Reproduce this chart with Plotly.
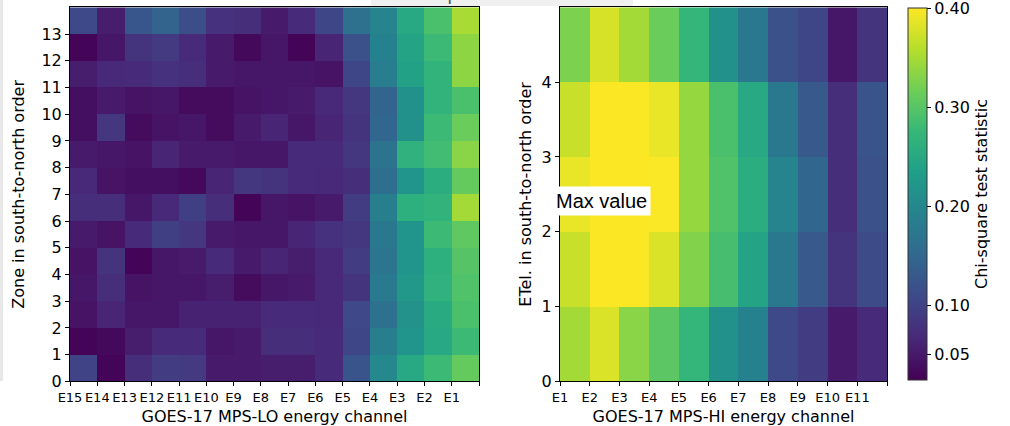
import plotly.graph_objects as go

# ---------------- data ----------------
lo_channels = ["E15", "E14", "E13", "E12", "E11", "E10", "E9", "E8",
               "E7", "E6", "E5", "E4", "E3", "E2", "E1"]
hi_channels = ["E1", "E2", "E3", "E4", "E5", "E6", "E7", "E8", "E9", "E10", "E11"]
lo_zones = ["0", "1", "2", "3", "4", "5", "6", "7", "8", "9", "10", "11", "12", "13"]
hi_etels = ["0", "1", "2", "3", "4"]

# rows: zone 0 (bottom) .. zone 13 (top); columns E15 .. E1
lo_stat = [
    [0.100, 0.029, 0.074, 0.093, 0.089, 0.051, 0.051, 0.055, 0.055, 0.070, 0.123, 0.201, 0.250, 0.280, 0.310],
    [0.029, 0.033, 0.055, 0.070, 0.070, 0.048, 0.051, 0.074, 0.074, 0.070, 0.104, 0.186, 0.220, 0.250, 0.280],
    [0.044, 0.063, 0.048, 0.048, 0.059, 0.059, 0.059, 0.070, 0.070, 0.066, 0.108, 0.164, 0.216, 0.254, 0.291],
    [0.048, 0.074, 0.044, 0.048, 0.048, 0.055, 0.036, 0.048, 0.051, 0.066, 0.081, 0.179, 0.224, 0.265, 0.295],
    [0.044, 0.081, 0.029, 0.048, 0.051, 0.070, 0.051, 0.063, 0.055, 0.066, 0.093, 0.171, 0.220, 0.261, 0.299],
    [0.051, 0.044, 0.070, 0.096, 0.085, 0.051, 0.048, 0.048, 0.063, 0.078, 0.085, 0.175, 0.220, 0.280, 0.306],
    [0.074, 0.074, 0.048, 0.066, 0.096, 0.074, 0.029, 0.048, 0.044, 0.051, 0.093, 0.186, 0.261, 0.269, 0.348],
    [0.066, 0.044, 0.040, 0.040, 0.033, 0.063, 0.085, 0.081, 0.070, 0.066, 0.074, 0.160, 0.220, 0.258, 0.310],
    [0.051, 0.048, 0.044, 0.063, 0.051, 0.051, 0.048, 0.048, 0.070, 0.070, 0.085, 0.168, 0.265, 0.284, 0.333],
    [0.040, 0.085, 0.036, 0.044, 0.048, 0.036, 0.051, 0.063, 0.048, 0.063, 0.081, 0.149, 0.213, 0.280, 0.314],
    [0.040, 0.051, 0.044, 0.048, 0.036, 0.036, 0.044, 0.048, 0.051, 0.066, 0.085, 0.145, 0.213, 0.269, 0.291],
    [0.055, 0.066, 0.070, 0.078, 0.074, 0.051, 0.048, 0.048, 0.048, 0.044, 0.104, 0.183, 0.239, 0.269, 0.336],
    [0.029, 0.048, 0.081, 0.089, 0.070, 0.051, 0.033, 0.048, 0.029, 0.063, 0.119, 0.190, 0.243, 0.280, 0.336],
    [0.108, 0.055, 0.126, 0.145, 0.115, 0.078, 0.074, 0.051, 0.070, 0.104, 0.164, 0.194, 0.250, 0.291, 0.351],
]

# rows: ETel 0 (bottom) .. 4 (top); columns E1 .. E11
hi_stat = [
    [0.348, 0.381, 0.333, 0.303, 0.273, 0.213, 0.190, 0.108, 0.093, 0.051, 0.070],
    [0.370, 0.400, 0.400, 0.381, 0.329, 0.288, 0.243, 0.175, 0.130, 0.081, 0.111],
    [0.389, 0.400, 0.400, 0.399, 0.340, 0.295, 0.258, 0.194, 0.149, 0.074, 0.119],
    [0.370, 0.400, 0.400, 0.389, 0.340, 0.291, 0.250, 0.175, 0.130, 0.074, 0.123],
    [0.325, 0.378, 0.348, 0.314, 0.273, 0.213, 0.175, 0.119, 0.104, 0.048, 0.081],
]

cbar_ticks = [0.05, 0.10, 0.20, 0.30, 0.40]
cbar_labels = ["0.05", "0.10", "0.20", "0.30", "0.40"]
z_min, z_max = 0.0245, 0.4005

# ---------------- figure ----------------
W, H = 1010, 426
FONT = "DejaVu Sans"

def px_x(p):
    return p / W

def px_y(p):
    return 1 - p / H

fig = go.Figure()
fig.add_trace(go.Heatmap(z=lo_stat, x0=0.5, dx=1, y0=0.5, dy=1,
                         coloraxis="coloraxis", xaxis="x", yaxis="y",
                         hovertemplate="%{z}<extra></extra>"))
fig.add_trace(go.Heatmap(z=hi_stat, x0=0.5, dx=1, y0=0.5, dy=1,
                         coloraxis="coloraxis", xaxis="x2", yaxis="y2",
                         hovertemplate="%{z}<extra></extra>"))

common = dict(showgrid=False, zeroline=False, showline=True, mirror=True,
              linecolor="black", linewidth=1, ticks="outside", ticklen=4,
              tickcolor="black", tickwidth=1, color="black", automargin=False)

y_dom = [px_y(381.4), px_y(7.3)]

fig.update_layout(
    width=W, height=H,
    margin=dict(l=0, r=0, t=0, b=0, autoexpand=False),
    paper_bgcolor="white", plot_bgcolor="white",
    font=dict(family=FONT, color="black", size=16),
    xaxis=dict(domain=[px_x(70), px_x(479)], range=[0, len(lo_channels)],
               tickvals=list(range(len(lo_channels) + 1)),
               ticktext=lo_channels + [""], tickfont=dict(size=13),
               title=dict(text="GOES-17 MPS-LO energy channel", font=dict(size=16), standoff=6),
               anchor="y", **common),
    yaxis=dict(domain=y_dom, range=[0, len(lo_zones)],
               tickvals=list(range(len(lo_zones))), ticktext=lo_zones,
               tickfont=dict(size=16),
               title=dict(text="Zone in south-to-north order", font=dict(size=16), standoff=12),
               anchor="x", **common),
    xaxis2=dict(domain=[px_x(560), px_x(887)], range=[0, len(hi_channels)],
                tickvals=list(range(len(hi_channels) + 1)),
                ticktext=hi_channels + [""], tickfont=dict(size=13),
                title=dict(text="GOES-17 MPS-HI energy channel", font=dict(size=16), standoff=6),
                anchor="y2", **common),
    yaxis2=dict(domain=y_dom, range=[0, len(hi_etels)],
                tickvals=list(range(len(hi_etels))), ticktext=hi_etels,
                tickfont=dict(size=16),
                title=dict(text="ETel. in south-to-north order", font=dict(size=16), standoff=6),
                anchor="x2", **common),
    coloraxis=dict(
        colorscale="Viridis", cmin=z_min, cmax=z_max,
        colorbar=dict(
            x=px_x(908), xanchor="left", xpad=0, ypad=0,
            y=px_y(194), yanchor="middle", len=372 / H, lenmode="fraction",
            thickness=19, outlinewidth=1, outlinecolor="#333",
            tickvals=cbar_ticks, ticktext=cbar_labels,
            ticks="outside", ticklen=4, tickcolor="black",
            ticklabeloverflow="allow",
            tickfont=dict(size=16, color="black"),
            title=dict(text="Chi-square test statistic", side="right",
                       font=dict(size=16, color="black")),
        ),
    ),
)

# screenshot edge artefacts: cut-off title box and thin grey strip on the left
fig.add_shape(type="rect", xref="paper", yref="paper",
              x0=px_x(371), x1=px_x(633), y0=px_y(6), y1=1,
              fillcolor="#f0f0f0", line=dict(width=0), layer="above")
fig.add_annotation(xref="paper", yref="paper", x=px_x(503), y=px_y(6),
                   xanchor="center", yanchor="bottom", showarrow=False,
                   text="Chi-square test statistic",
                   font=dict(size=18, color="#555"))
fig.add_shape(type="rect", xref="paper", yref="paper",
              x0=0, x1=px_x(3), y0=px_y(381), y1=1,
              fillcolor="#e8e8e8", line=dict(width=0), layer="above")

# "Max value" label on the right panel
fig.add_annotation(xref="paper", yref="paper", x=px_x(552), y=px_y(200.5),
                   xanchor="left", yanchor="middle", showarrow=False,
                   text="Max value", bgcolor="white", borderpad=3,
                   font=dict(family="Liberation Sans", size=20, color="black"))

fig.write_html("out.html")
